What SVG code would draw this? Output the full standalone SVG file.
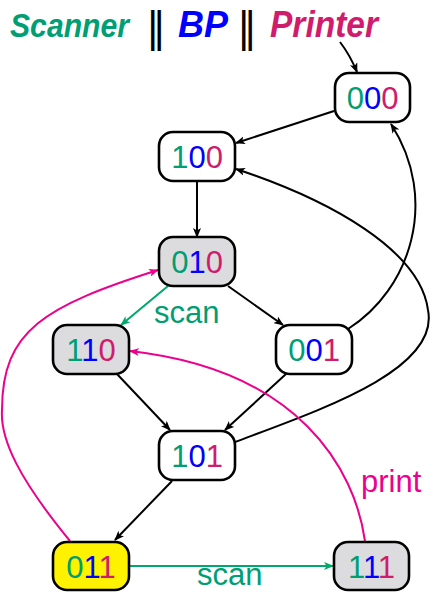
<svg xmlns="http://www.w3.org/2000/svg" width="433" height="592" viewBox="0 0 433 592">
<style>
.node rect{stroke:#000;stroke-width:2.6;}
.w{fill:#fff}.g{fill:#dcdcde}.y{fill:#fff200}
.lbl{font-family:"Liberation Sans",Arial,sans-serif;font-size:31px;text-anchor:middle}
.s{fill:#009e73}.b{fill:#0000ff}.p{fill:#d01c6c}
.e{fill:none;stroke:#000;stroke-width:2}
.es{fill:none;stroke:#00a86b;stroke-width:2}
.ep{fill:none;stroke:#ec008c;stroke-width:2}
.title{font-family:"Liberation Sans",Arial,sans-serif;font-size:36px;font-weight:bold;font-style:italic}
.bar{font-family:"DejaVu Sans",sans-serif;font-size:40px;fill:#000;text-anchor:middle}
.el{font-family:"Liberation Sans",Arial,sans-serif;font-size:31px}
</style>
<defs>
<marker id="ak" viewBox="0 0 10 8" refX="9" refY="4" markerWidth="10" markerHeight="8" markerUnits="userSpaceOnUse" orient="auto"><path d="M0,0 L10,4 L0,8 L2.5,4 Z" fill="#000"/></marker>
<marker id="ag" viewBox="0 0 10 8" refX="9" refY="4" markerWidth="10" markerHeight="8" markerUnits="userSpaceOnUse" orient="auto"><path d="M0,0 L10,4 L0,8 L2.5,4 Z" fill="#00a86b"/></marker>
<marker id="am" viewBox="0 0 10 8" refX="9" refY="4" markerWidth="10" markerHeight="8" markerUnits="userSpaceOnUse" orient="auto"><path d="M0,0 L10,4 L0,8 L2.5,4 Z" fill="#ec008c"/></marker>
</defs>
<g id="title">
<text class="title" x="10" y="37" fill="#009e73" style="font-size:34px" textLength="119" lengthAdjust="spacingAndGlyphs">Scanner</text>
<text class="bar" x="156" y="41">‖</text>
<text class="title" x="178" y="37" fill="#0000ff" textLength="50" lengthAdjust="spacingAndGlyphs">BP</text>
<text class="bar" x="247" y="41">‖</text>
<text class="title" x="270" y="37" fill="#d01c6c" textLength="108" lengthAdjust="spacingAndGlyphs">Printer</text>
</g>
<g id="connectors">
<path class="e" d="M340,42 Q350,55 357,72" marker-end="url(#ak)"/>
<path class="e" d="M334,111 L236,143" marker-end="url(#ak)"/>
<path class="e" d="M197,181 L197,237" marker-end="url(#ak)"/>
<path class="es" d="M168,286 L121,325" marker-end="url(#ag)"/>
<text class="el s" x="154" y="323">scan</text>
<path class="e" d="M228,286 L283,325" marker-end="url(#ak)"/>
<path class="e" d="M348,329 C410,290 440,200 391,124" marker-end="url(#ak)"/>
<path class="e" d="M235,442 C320,410 440,370 428,310 C420,250 330,200 236,169" marker-end="url(#ak)"/>
<path class="e" d="M286,374 L225,430" marker-end="url(#ak)"/>
<path class="e" d="M117,374 L170,430" marker-end="url(#ak)"/>
<path class="e" d="M172,481 L115,540" marker-end="url(#ak)"/>
<path class="ep" d="M70,541 C20,480 0,440 2,410 C2,330 45,306 158,270" marker-end="url(#am)"/>
<path class="ep" d="M365,541 C355,470 300,370 130,351" marker-end="url(#am)"/>
<text class="el" x="361" y="492" fill="#ec008c">print</text>
<path class="es" d="M129,566 L333,566" marker-end="url(#ag)"/>
<text class="el s" x="197" y="585">scan</text>
</g>
<g id="n000" class="node"><rect class="w" x="335" y="73" width="75" height="49" rx="14"/><text class="lbl" x="372.5" y="109"><tspan class="s">0</tspan><tspan class="b">0</tspan><tspan class="p">0</tspan></text></g>
<g id="n100" class="node"><rect class="w" x="159" y="132" width="76" height="49" rx="14"/><text class="lbl" x="197" y="168"><tspan class="s">1</tspan><tspan class="b">0</tspan><tspan class="p">0</tspan></text></g>
<g id="n010" class="node"><rect class="g" x="159" y="237" width="76" height="49" rx="14"/><text class="lbl" x="197" y="273"><tspan class="s">0</tspan><tspan class="b">1</tspan><tspan class="p">0</tspan></text></g>
<g id="n110" class="node"><rect class="g" x="53" y="325" width="76" height="49" rx="14"/><text class="lbl" x="91" y="361"><tspan class="s">1</tspan><tspan class="b">1</tspan><tspan class="p">0</tspan></text></g>
<g id="n001" class="node"><rect class="w" x="276" y="325" width="76" height="49" rx="14"/><text class="lbl" x="314" y="361"><tspan class="s">0</tspan><tspan class="b">0</tspan><tspan class="p">1</tspan></text></g>
<g id="n101" class="node"><rect class="w" x="159" y="431" width="76" height="49" rx="14"/><text class="lbl" x="197" y="467"><tspan class="s">1</tspan><tspan class="b">0</tspan><tspan class="p">1</tspan></text></g>
<g id="n011" class="node"><rect class="y" x="53" y="542" width="76" height="48" rx="14"/><text class="lbl" x="91" y="578"><tspan class="s">0</tspan><tspan class="b">1</tspan><tspan class="p">1</tspan></text></g>
<g id="n111" class="node"><rect class="g" x="334" y="542" width="75" height="48" rx="14"/><text class="lbl" x="371.5" y="578"><tspan class="s">1</tspan><tspan class="b">1</tspan><tspan class="p">1</tspan></text></g>
</svg>
